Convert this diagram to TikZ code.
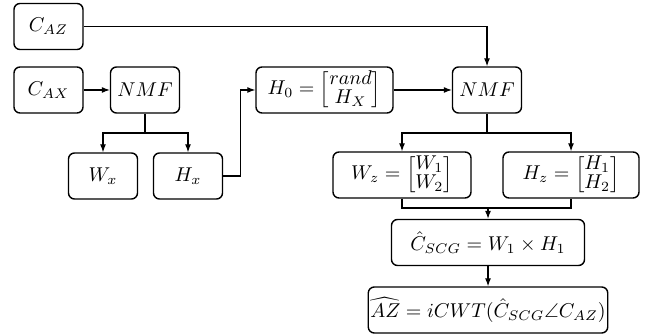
\documentclass[tikz,border=0pt]{standalone}
\usepackage{amsmath,amsfonts}
\usepackage{tikz}
\usetikzlibrary{arrows.meta}

\begin{document}
\begin{tikzpicture}[x=0.5pt,y=-0.5pt,
    every node/.style={draw,rounded corners=3pt,line width=0.7pt,minimum height=23pt,inner sep=1pt},
    arr/.style={-{Latex[length=4pt,width=3pt]}},
    line width=0.55pt]
    \useasboundingbox (0,0) rectangle (646,335);
    \renewcommand{\arraystretch}{0.8}

    \node[minimum width=34.5pt] (caz) at (48.5,26.5) {$C_{AZ}$};
    \node[minimum width=34.5pt] (cax) at (48.5,90) {$C_{AX}$};
    \node[minimum width=34.5pt] (nmf1) at (145,90) {$NMF$};
    \node[minimum width=68.5pt] (h0) at (324.5,90) {$H_0=\begin{bmatrix} rand\\ H_X\end{bmatrix}$};
    \node[minimum width=34.5pt] (nmf2) at (487,90) {$NMF$};
    \node[minimum width=34.5pt] (wx) at (103,176) {$W_x$};
    \node[minimum width=34.5pt] (hx) at (188,176) {$H_x$};
    \node[minimum width=69pt] (wz) at (402,175) {$W_z=\begin{bmatrix} W_1\\ W_2\end{bmatrix}$};
    \node[minimum width=68pt] (hz) at (571,175) {$H_z=\begin{bmatrix} H_1\\ H_2\end{bmatrix}$};
    \node[minimum width=96.5pt] (cscg) at (488,242.5) {$\hat{C}_{SCG}=W_1\times H_1$};
    \node[minimum width=96.5pt] (az) at (488,310) {$\widehat{AZ}=iCWT(\hat{C}_{SCG}\angle C_{AZ})$};

    \coordinate (s1) at (145,133);
    \coordinate (s2) at (487,133);
    \coordinate (j1) at (488,208);

    \draw[arr] (caz) -| (nmf2);
    \draw[arr] (cax) -- (nmf1);
    \draw (nmf1) -- (s1);
    \draw[arr] (s1) -| (wx);
    \draw[arr] (s1) -| (hx);
    \draw[arr] (hx.east) -- ++(17,0) |- (h0.west);
    \draw[arr] (h0) -- (nmf2);
    \draw (nmf2) -- (s2);
    \draw[arr] (s2) -| (wz);
    \draw[arr] (s2) -| (hz);
    \draw (wz.south) |- (j1) -| (hz.south);
    \draw[arr] (j1) -- (cscg);
    \draw[arr] (cscg) -- (az);
\end{tikzpicture}
\end{document}
